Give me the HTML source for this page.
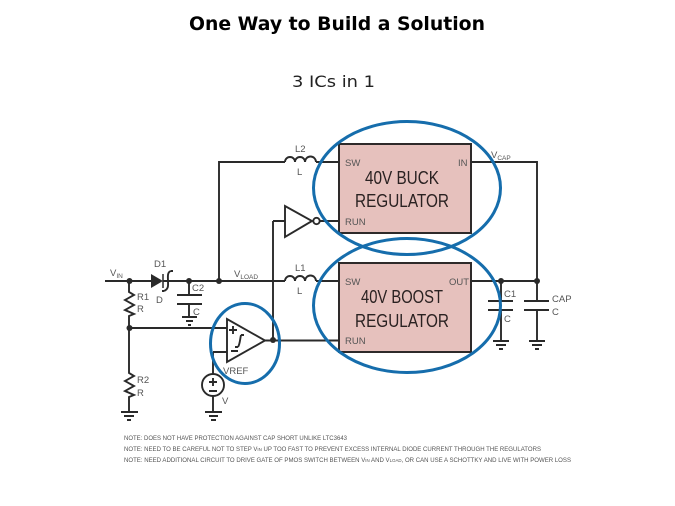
<!DOCTYPE html>
<html><head><meta charset="utf-8"><style>
html,body{margin:0;padding:0;background:#fff;width:675px;height:506px;overflow:hidden}
svg{display:block}
.t{font-family:"DejaVu Sans",sans-serif}
.l{font-family:"Liberation Sans",sans-serif;font-size:9.500px;fill:#555}
.b{font-family:"Liberation Sans",sans-serif;font-size:18.500px;fill:#2a2020;-webkit-text-stroke:.45px #2a2020}
.n{font-family:"Liberation Sans",sans-serif;font-size:6.200px;fill:#555}
</style></head><body>
<svg width="675" height="506" viewBox="0 0 675 506" xmlns="http://www.w3.org/2000/svg">
<defs><filter id="s" filterUnits="userSpaceOnUse" x="0" y="100" width="675" height="400"><feGaussianBlur stdDeviation="0.3"/></filter></defs>
<text class="t" x="337" y="30" text-anchor="middle" font-size="19" font-weight="bold" fill="#000" textLength="296" lengthAdjust="spacingAndGlyphs">One Way to Build a Solution</text>
<text class="t" x="333.500" y="87" text-anchor="middle" font-size="16" fill="#222" textLength="83" lengthAdjust="spacingAndGlyphs">3 ICs in 1</text>
<g filter="url(#s)">
<rect x="339" y="144" width="132" height="89" fill="#e6c1bd" stroke="#2f2a2a" stroke-width="2"/>
<rect x="339" y="263" width="132" height="89" fill="#e6c1bd" stroke="#2f2a2a" stroke-width="2"/>
<g fill="none" stroke="#2b2b2b" stroke-width="1.900">
<path d="M105 281H151M163 281H285M316 281H339M471 281H537M339 162H316M285 162H219V281M471 162H537V281"/>
<path d="M273 221V340M273 221H285M320 221H339M265 340.500H339"/>
<path d="M129 281V292l5 3-9 5 9 5-9 5 9 4-5 2V373l5 3-9 5 9 5-9 5 9 4-5 2V412"/>
<path d="M129 328H227"/>
<path d="M227 319V362L265 340.500Z"/>
<path d="M285 206V237L312 221Z"/>
<circle cx="316.500" cy="221" r="3.200"/>
<path d="M285 162a5 5 0 0 1 10 0a5 5 0 0 1 10 0a5 5 0 0 1 11 0M285 281a5 5 0 0 1 10 0a5 5 0 0 1 10 0a5 5 0 0 1 11 0"/>
<path d="M213 352H227M213 352V374M213 396V412"/>
<circle cx="213" cy="385" r="11"/>
<path d="M189 281V295M177 295H202M177 304H202M189 304V317"/>
<path d="M501 281V301M488 301H513M488 310H513M501 310V340"/>
<path d="M537 281V301M524 301H549M524 310H549M537 310V340"/>
<path d="M121 412H138M124 416H134M127 420H131"/>
<path d="M205 412H222M209 416H218M211 420H216"/>
<path d="M182 317H197M186 321H193M188 325H191"/>
<path d="M493 341H509M496 345H506M499 349H503"/>
<path d="M529 341H545M532 345H542M535 349H539"/>
<path d="M209 382H217M213 378V386M209 391H217M229 330H237M233 326V334M231 351H238M241 335c-1 4-1 9-3 12M241 335h3M238 347h-3"/>
<path d="M171 271c-4 1-3 6-3 10s1 8-4 10M171 271h2M164 291h-2"/>
</g>
<path d="M151 274V288L163 281Z" fill="#2b2b2b"/>
<path d="M163 274V288" stroke="#2b2b2b" stroke-width="1.500"/>
<g fill="#2b2b2b"><circle cx="129.500" cy="281" r="3"/><circle cx="189" cy="281" r="3"/><circle cx="219" cy="281" r="3"/><circle cx="129.500" cy="328" r="3"/><circle cx="273" cy="340" r="3"/><circle cx="501" cy="281" r="3"/><circle cx="537" cy="281" r="3"/></g>
<text class="l" x="110" y="276">V<tspan font-size="6.500" dy="2">IN</tspan></text>
<text class="l" x="154" y="267">D1</text><text class="l" x="156" y="303">D</text>
<text class="l" x="234" y="277">V<tspan font-size="6.500" dy="2">LOAD</tspan></text>
<text class="l" x="192" y="291">C2</text><text class="l" x="193" y="315">C</text>
<text class="l" x="137" y="300">R1</text><text class="l" x="137" y="312">R</text>
<text class="l" x="137" y="383">R2</text><text class="l" x="137" y="396">R</text>
<text class="l" x="223" y="374">VREF</text><text class="l" x="222" y="404">V</text>
<text class="l" x="295" y="152">L2</text><text class="l" x="297" y="175">L</text>
<text class="l" x="295" y="271">L1</text><text class="l" x="297" y="294">L</text>
<text class="l" x="345" y="166">SW</text><text class="l" x="458" y="166">IN</text><text class="l" x="345" y="225">RUN</text>
<text class="l" x="345" y="285">SW</text><text class="l" x="449" y="285">OUT</text><text class="l" x="345" y="344">RUN</text>
<text class="l" x="491" y="158">V<tspan font-size="6.500" dy="2">CAP</tspan></text>
<text class="l" x="504" y="297">C1</text><text class="l" x="504" y="322">C</text>
<text class="l" x="552" y="302">CAP</text><text class="l" x="552" y="315">C</text>
<text class="b" x="365" y="184" textLength="74" lengthAdjust="spacingAndGlyphs">40V BUCK</text>
<text class="b" x="355" y="207" textLength="94" lengthAdjust="spacingAndGlyphs">REGULATOR</text>
<text class="b" x="361" y="303" textLength="82" lengthAdjust="spacingAndGlyphs">40V BOOST</text>
<text class="b" x="355" y="327" textLength="94" lengthAdjust="spacingAndGlyphs">REGULATOR</text>
<g fill="none" stroke="#126dac" stroke-width="3">
<ellipse cx="407" cy="188" rx="93.500" ry="66.500"/>
<ellipse cx="407" cy="305.500" rx="93.500" ry="67"/>
<ellipse cx="245" cy="343.500" rx="34.500" ry="40"/>
</g>
<text class="n" x="124" y="440" textLength="223" lengthAdjust="spacingAndGlyphs">NOTE: DOES NOT HAVE PROTECTION AGAINST CAP SHORT UNLIKE LTC3643</text>
<text class="n" x="124" y="451" textLength="417" lengthAdjust="spacingAndGlyphs">NOTE: NEED TO BE CAREFUL NOT TO STEP V<tspan font-size="4.500">IN</tspan> UP TOO FAST TO PREVENT EXCESS INTERNAL DIODE CURRENT THROUGH THE REGULATORS</text>
<text class="n" x="124" y="462" textLength="447" lengthAdjust="spacingAndGlyphs">NOTE: NEED ADDITIONAL CIRCUIT TO DRIVE GATE OF PMOS SWITCH BETWEEN V<tspan font-size="4.500">IN</tspan> AND V<tspan font-size="4.500">LOAD</tspan>, OR CAN USE A SCHOTTKY AND LIVE WITH POWER LOSS</text>
</g>
</svg>
</body></html>
